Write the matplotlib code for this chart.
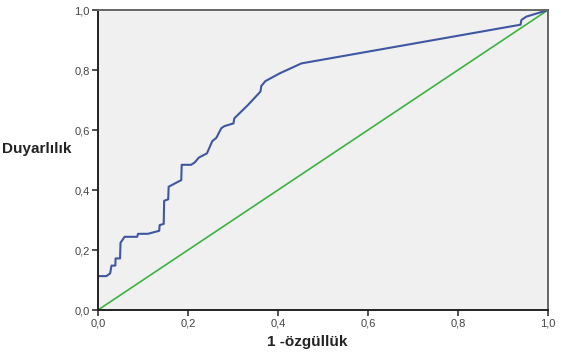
import matplotlib
matplotlib.use("Agg")
from matplotlib import pyplot as plt
from matplotlib.ticker import FuncFormatter

# ROC curve
fpr = [0.0, 0.0185, 0.027, 0.030, 0.0385, 0.039, 0.049, 0.050, 0.059, 0.087,
       0.089, 0.111, 0.136, 0.137, 0.146, 0.147, 0.156, 0.157, 0.185, 0.186,
       0.207, 0.215, 0.224, 0.242, 0.254, 0.263, 0.274, 0.281, 0.301, 0.303,
       0.333, 0.361, 0.363, 0.372, 0.404, 0.452, 0.939, 0.941, 0.952, 0.996, 1.0]
tpr = [0.113, 0.113, 0.122, 0.148, 0.148, 0.172, 0.172, 0.224, 0.244, 0.244,
       0.254, 0.254, 0.264, 0.283, 0.287, 0.364, 0.369, 0.411, 0.433, 0.484,
       0.484, 0.492, 0.508, 0.522, 0.563, 0.574, 0.606, 0.613, 0.622, 0.639,
       0.683, 0.728, 0.747, 0.763, 0.789, 0.822, 0.951, 0.967, 0.978, 0.998, 1.0]
ref_x = [0.0, 1.0]
ref_y = [0.0, 1.0]
ticks = [0.0, 0.2, 0.4, 0.6, 0.8, 1.0]

plt.rcParams["font.family"] = ["Liberation Sans", "DejaVu Sans"]

fig = plt.figure(figsize=(5.61, 3.56), dpi=100)
ax = fig.add_axes([0.1747, 0.1292, 0.8021, 0.8427])
ax.set_facecolor("#f0f0f0")

ax.plot(ref_x, ref_y, color="#3cb43c", lw=1.2)
ax.plot(fpr, tpr, color="#3f57a3", lw=1.5)

ax.set_xlim(0, 1)
ax.set_ylim(0, 1)
ax.set_xticks(ticks)
ax.set_yticks(ticks)
fmt = FuncFormatter(lambda v, _: f"{v:.1f}".replace(".", ","))
ax.xaxis.set_major_formatter(fmt)
ax.yaxis.set_major_formatter(fmt)
ax.tick_params(labelsize=8, length=4, width=1.2, color="#333333",
               labelcolor="#444444", pad=2)
for side in ["left", "bottom"]:
    ax.spines[side].set_color("#222222")
    ax.spines[side].set_linewidth(1.4)
for side in ["top", "right"]:
    ax.spines[side].set_color("#666666")
    ax.spines[side].set_linewidth(1.4)

fig.text(0.548, 0.039, "1 -özgüllük", ha="center", va="center",
         fontsize=11, fontweight="bold", color="#222222")
fig.text(0.066, 0.581, "Duyarlılık", ha="center", va="center",
         fontsize=11, fontweight="bold", color="#222222")

fig.savefig("out.png", dpi=100)
